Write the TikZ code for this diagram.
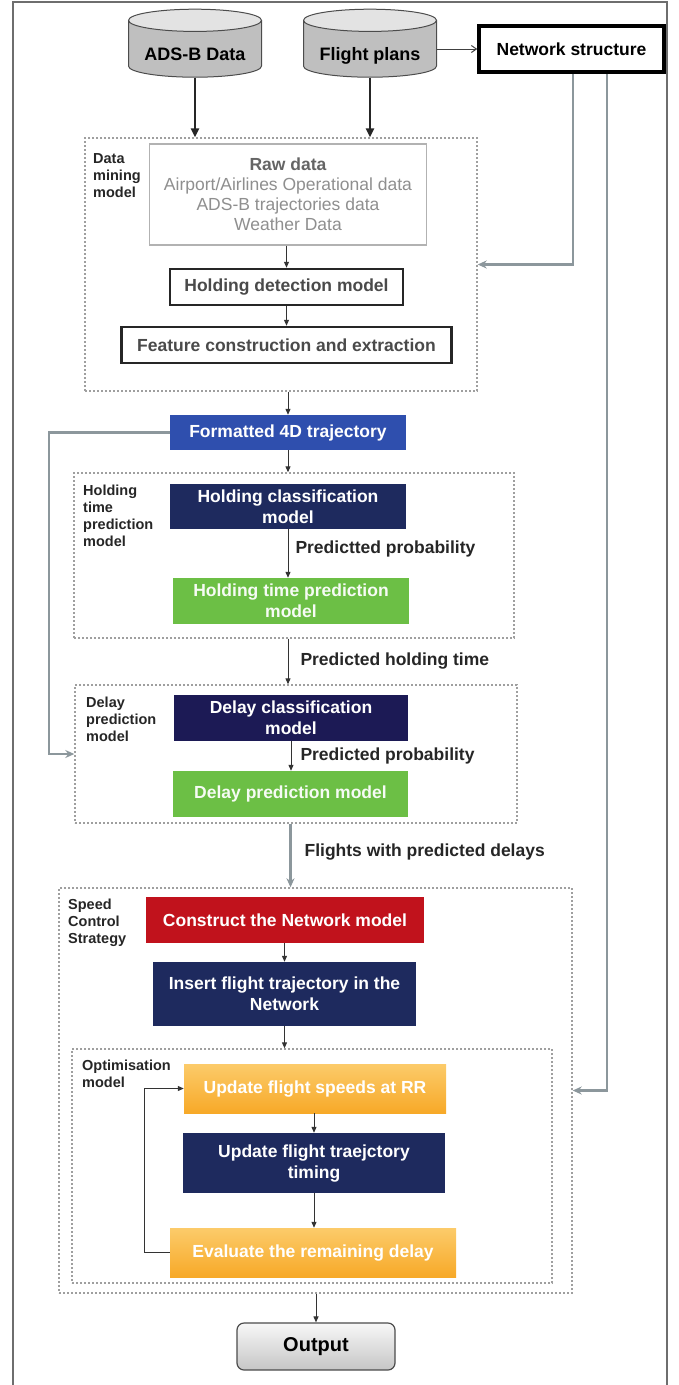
\documentclass[tikz,border=0pt]{standalone}
\usepackage{fontspec}
\setmainfont{Liberation Sans}
\usetikzlibrary{positioning,arrows.meta,shapes.geometric,calc}

\definecolor{trajblue}{HTML}{2F4FAE}
\definecolor{deepnavy}{HTML}{1E2A5E}
\definecolor{indigo}{HTML}{1C1A55}
\definecolor{leafgreen}{HTML}{6CBF45}
\definecolor{alertred}{HTML}{C1121C}
\definecolor{amber}{HTML}{F7A928}
\definecolor{amberlight}{HTML}{FCCB6A}
\definecolor{linkgray}{HTML}{8C979C}
\definecolor{framegray}{HTML}{6E6E6E}
\definecolor{rawgray}{HTML}{8F8F8F}
\definecolor{inkgray}{HTML}{4A4A4A}

\begin{document}
\begin{tikzpicture}[
      x=1pt, y=-1pt,
      txt/.style={font=\bfseries\fontsize{17.5}{21}\selectfont},
      cyl/.style={cylinder, shape border rotate=90, aspect=0.22, draw=black!70, line width=1,
                  minimum width=133pt, minimum height=68pt, inner sep=0pt,
                  text height=22pt, text depth=0pt,
                  cylinder uses custom fill, cylinder body fill=gray!50, cylinder end fill=gray!22,
                  font=\bfseries\fontsize{18}{21}\selectfont},
      outlined/.style={draw=black!85, line width=2.5, fill=white, align=center, inner sep=0pt,
                  text=inkgray, txt},
      filled/.style={align=center, inner sep=0pt, text=white, txt},
      group/.style={draw=gray!75, line width=1.4, dash pattern=on 2pt off 2pt, inner sep=0pt},
      grouplabel/.style={anchor=north west, align=left, inner sep=0pt, text=black!85,
                  font=\bfseries\fontsize{14.5}{17}\selectfont},
      edgelabel/.style={anchor=west, inner sep=0pt, text=black!85,
                  font=\bfseries\fontsize{17.5}{20}\selectfont},
      arrow/.style={-{Triangle[length=6pt,width=5pt]}, line width=1, black!80},
      thickarrow/.style={-{Triangle[length=9pt,width=8pt]}, line width=2.4, black!85},
      grayarrow/.style={-{Stealth[length=9pt,width=8pt]}, line width=2.2, linkgray}
  ]
  \useasboundingbox (0,0) rectangle (678,1385);

  %% ---- Frame ----
  \draw[framegray, line width=1.5] (13,1385) -- (13,2) -- (667,2) -- (667,1385);

  %% ---- Sources ----
  \node[cyl] (adsb) at (195,49) {ADS-B Data};
  \node[cyl] (plans) at (370,49) {Flight plans};
  \node[draw=black, line width=3.5, fill=white, minimum width=185pt, minimum height=46pt,
        inner sep=0pt, font=\bfseries\fontsize{17.5}{20}\selectfont] (netw) at (571.5,49)
      {Network structure};

  %% ---- Data mining model ----
  \node[group, minimum width=392pt, minimum height=253pt] (mining) at (281,264.5) {};
  \node[grouplabel] (mininglbl) at (93,153) {Data\\mining\\model};
  \node[draw=gray!60, line width=1.2, fill=white, minimum width=277pt, minimum height=101pt,
        align=center, inner sep=0pt, font=\fontsize{17.5}{20}\selectfont, text=rawgray] (raw)
      at (288,194.5)
      {\textcolor{inkgray!85}{\bfseries Raw data}\\Airport/Airlines Operational data\\
       ADS-B trajectories data\\Weather Data};
  \node[outlined, minimum width=233pt, minimum height=36pt] (hdet) at (286.5,287)
      {Holding detection model};
  \node[outlined, minimum width=330pt, minimum height=36pt] (feat) at (286.5,345)
      {Feature construction and extraction};

  %% ---- Formatted trajectory ----
  \node[filled, fill=trajblue, minimum width=236pt, minimum height=35pt] (traj) at (288,432.5)
      {Formatted 4D trajectory};

  %% ---- Holding time prediction model ----
  \node[group, minimum width=440pt, minimum height=165pt] (hold) at (294,555.5) {};
  \node[grouplabel] (holdlbl) at (83,485) {Holding\\time\\prediction\\model};
  \node[filled, fill=deepnavy, minimum width=236pt, minimum height=45pt] (hcls) at (288,506.5)
      {Holding classification\\model};
  \node[filled, fill=leafgreen, text=white!94!leafgreen, minimum width=236pt,
        minimum height=46pt] (htime) at (291,601)
      {Holding time prediction\\model};

  %% ---- Delay prediction model ----
  \node[group, minimum width=442pt, minimum height=138pt] (delay) at (296,754) {};
  \node[grouplabel] (delaylbl) at (86,697) {Delay\\prediction\\model};
  \node[filled, fill=indigo, minimum width=234pt, minimum height=46pt] (dcls) at (291,718)
      {Delay classification\\model};
  \node[filled, fill=leafgreen, text=white!94!leafgreen, minimum width=235pt,
        minimum height=46pt] (dpred) at (290.5,794)
      {Delay prediction model};

  %% ---- Speed control strategy ----
  \node[group, minimum width=513pt, minimum height=405pt] (speed) at (315.5,1090.5) {};
  \node[grouplabel] (speedlbl) at (68,899) {Speed\\Control\\Strategy};
  \node[filled, fill=alertred, minimum width=278pt, minimum height=46pt] (cnet) at (285,920)
      {Construct the Network model};
  \node[filled, fill=deepnavy, minimum width=263pt, minimum height=64pt] (ins) at (284.5,994)
      {Insert flight trajectory in the\\Network};

  %% ---- Optimisation model ----
  \node[group, minimum width=480pt, minimum height=234pt] (opt) at (312,1166) {};
  \node[grouplabel] (optlbl) at (82,1060) {Optimisation\\model};
  \node[filled, top color=amberlight, bottom color=amber, minimum width=262pt,
        minimum height=49pt] (spd) at (315,1088.5)
      {Update flight speeds at RR};
  \node[filled, fill=deepnavy, minimum width=262pt, minimum height=60pt] (tim) at (314,1163)
      {Update flight traejctory\\timing};
  \node[filled, top color=amberlight, bottom color=amber, minimum width=286pt,
        minimum height=49pt] (eval) at (313,1252.5)
      {Evaluate the remaining delay};

  %% ---- Output ----
  \node[draw=black!70, line width=1.2, rounded corners=7pt, top color=gray!6, bottom color=gray!45,
        minimum width=158pt, minimum height=47pt, inner sep=0pt,
        font=\bfseries\fontsize{20}{22}\selectfont] (out) at (316,1346.5) {Output};

  %% ---- Connections ----

  % Sources into the data mining model
  \draw[thickarrow] (adsb.south) -- (adsb.south |- mining.north);
  \draw[thickarrow] (plans.south) -- (plans.south |- mining.north);
  \draw[-{Straight Barb[length=5pt,width=7pt]}, line width=1, black!75] (plans.east) -- (netw.west);

  % Network structure feeds
  \draw[grayarrow] ($(netw.south)+(1.5,0)$) |- (mining.east);
  \draw[grayarrow] ($(netw.south)+(35.5,0)$) |- (speed.east);

  % Data mining internal
  \draw[arrow] (raw.south -| hdet.north) -- (hdet.north);
  \draw[arrow] (hdet) -- (feat);
  \draw[arrow] (traj.north |- mining.south) -- (traj.north);

  % Trajectory into the prediction models
  \draw[arrow] (traj.south) -- (traj.south |- hold.north);
  \draw[grayarrow] (traj.west) -- ++(-121,0) |- (delay.west);

  % Holding time prediction internal
  \draw[arrow] (hcls.south) -- (hcls.south |- htime.north)
      node[edgelabel, pos=0.4, xshift=7pt] (p1) {Predictted probability};
  \draw[arrow] (hcls.south |- hold.south) -- (hcls.south |- delay.north)
      node[edgelabel, midway, xshift=12pt] (pht) {Predicted holding time};

  % Delay prediction internal
  \draw[arrow] (dcls.south) -- (dcls.south |- dpred.north)
      node[edgelabel, pos=0.5, xshift=9pt] (p2) {Predicted probability};
  \draw[grayarrow] (dpred.south |- delay.south) -- (dpred.south |- speed.north)
      node[edgelabel, pos=0.45, xshift=13pt] (fpd) {Flights with predicted delays};

  % Speed control internal
  \draw[arrow] (cnet.south -| ins.north) -- (ins.north);
  \draw[arrow] (ins.south) -- (ins.south |- opt.north);

  % Optimisation loop
  \draw[arrow] (spd.south -| tim.north) -- (tim.north);
  \draw[arrow] (tim.south) -- (tim.south |- eval.north);
  \draw[arrow] (eval.west) -- ++(-25,0) |- (spd.west);

  % Result
  \draw[arrow] (out.north |- speed.south) -- (out.north);

\end{tikzpicture}
\end{document}
